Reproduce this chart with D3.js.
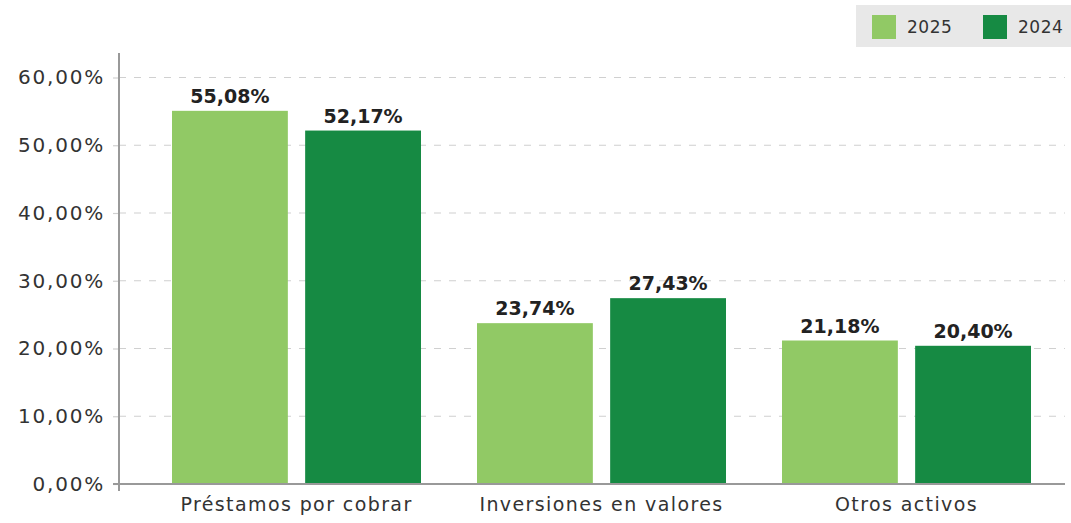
<!DOCTYPE html>
<html>
<head>
<meta charset="utf-8">
<script src="https://cdn.jsdelivr.net/npm/d3@7"></script>
<style>
  body { margin: 0; background: #fff; }
  svg { display: block; font-family: "DejaVu Sans", sans-serif; }
</style>
</head>
<body>
<div class="activos_chart"></div>
<script>
// Data
var categories = ["Préstamos por cobrar", "Inversiones en valores", "Otros activos"];
var series = ["2025", "2024"];
var values2025 = [55.08, 23.74, 21.18];
var values2024 = [52.17, 27.43, 20.40];
var yTicks = [0, 10, 20, 30, 40, 50, 60];

var width = 1071, height = 523;
var margin = {top: 53, right: 6, bottom: 39, left: 119};

var colors = d3.scaleOrdinal().domain(series).range(["#91c965", "#168a43"]);
var fmt = function (v) { return d3.format(".2f")(v).replace(".", ",") + "%"; };

var data = categories.map(function (c, i) {
  return {category: c, "2025": values2025[i], "2024": values2024[i]};
});

var svg = d3.select(".activos_chart")
  .append("svg")
  .attr("width", width)
  .attr("height", height);

// Y scale
var y = d3.scaleLinear()
  .domain([0, 60])
  .range([484, 77.5]);

// Gridlines
svg.append("g")
  .selectAll("line")
  .data(yTicks.slice(1))
  .enter().append("line")
  .attr("x1", margin.left)
  .attr("x2", width - margin.right)
  .attr("y1", d => y(d))
  .attr("y2", d => y(d))
  .attr("stroke", "#d0d0d0")
  .attr("stroke-width", 1.2)
  .attr("stroke-dasharray", "7,8");

// Y axis
svg.append("g")
  .attr("transform", "translate(" + margin.left + ",0)")
  .call(d3.axisLeft(y).tickValues(yTicks).tickSize(6).tickFormat(fmt))
  .attr("font-family", null)
  .attr("font-size", null)
  .call(g => g.select(".domain").remove())
  .call(g => g.selectAll(".tick line").attr("stroke", "#d0d0d0").attr("stroke-width", 1.2))
  .call(g => g.selectAll(".tick text")
    .attr("x", -14)
    .attr("fill", "#333333")
    .style("font-size", "20px")
    .style("letter-spacing", "1.8px"));

svg.append("line")
  .attr("x1", margin.left).attr("x2", margin.left)
  .attr("y1", margin.top).attr("y2", 491)
  .attr("stroke", "#999999")
  .attr("stroke-width", 2);

// X scales
var x0 = d3.scaleBand()
  .domain(categories)
  .range([144, 1059])
  .paddingInner(0);

var x1 = d3.scaleBand()
  .domain(series)
  .range([28, 277])
  .paddingInner(0.13);

// Bars
var groups = svg.selectAll(".bar")
  .data(data)
  .enter().append("g")
  .attr("class", "bar")
  .attr("transform", d => "translate(" + x0(d.category) + ",0)");

groups.selectAll("rect")
  .data(d => series.map(k => ({key: k, value: d[k]})))
  .enter().append("rect")
  .attr("x", d => x1(d.key))
  .attr("y", d => y(d.value))
  .attr("width", x1.bandwidth())
  .attr("height", d => y(0) - y(d.value))
  .attr("fill", d => colors(d.key));

// Value labels
groups.selectAll("text")
  .data(d => series.map(k => ({key: k, value: d[k]})))
  .enter().append("text")
  .attr("x", d => x1(d.key) + x1.bandwidth() / 2)
  .attr("y", d => y(d.value) - 8)
  .attr("text-anchor", "middle")
  .attr("fill", "#222222")
  .style("font-size", "19px")
  .style("font-weight", "bold")
  .text(d => fmt(d.value));

// X axis
svg.append("g")
  .attr("transform", "translate(0," + y(0) + ")")
  .call(d3.axisBottom(x0).tickSize(0))
  .attr("font-family", null)
  .attr("font-size", null)
  .call(g => g.select(".domain").remove())
  .call(g => g.selectAll(".tick text")
    .attr("y", 14)
    .attr("fill", "#333333")
    .style("font-size", "19px")
    .style("letter-spacing", "1.4px"));

svg.append("line")
  .attr("x1", 113).attr("x2", width - margin.right)
  .attr("y1", y(0)).attr("y2", y(0))
  .attr("stroke", "#999999")
  .attr("stroke-width", 2);

// Legend
var legend = svg.append("g")
  .attr("transform", "translate(856,5)");

legend.append("rect")
  .attr("width", 215)
  .attr("height", 42)
  .attr("fill", "#e8e8e8");

var items = legend.selectAll(".item")
  .data(series)
  .enter().append("g")
  .attr("class", "item")
  .attr("transform", (d, i) => "translate(" + (16 + i * 111) + ",10)");

items.append("rect")
  .attr("width", 24)
  .attr("height", 24)
  .attr("fill", d => colors(d));

items.append("text")
  .attr("x", 35)
  .attr("y", 12)
  .attr("dy", "0.35em")
  .attr("fill", "#333333")
  .style("font-size", "17px")
  .style("letter-spacing", "0.5px")
  .text(d => d);
</script>
</body>
</html>
